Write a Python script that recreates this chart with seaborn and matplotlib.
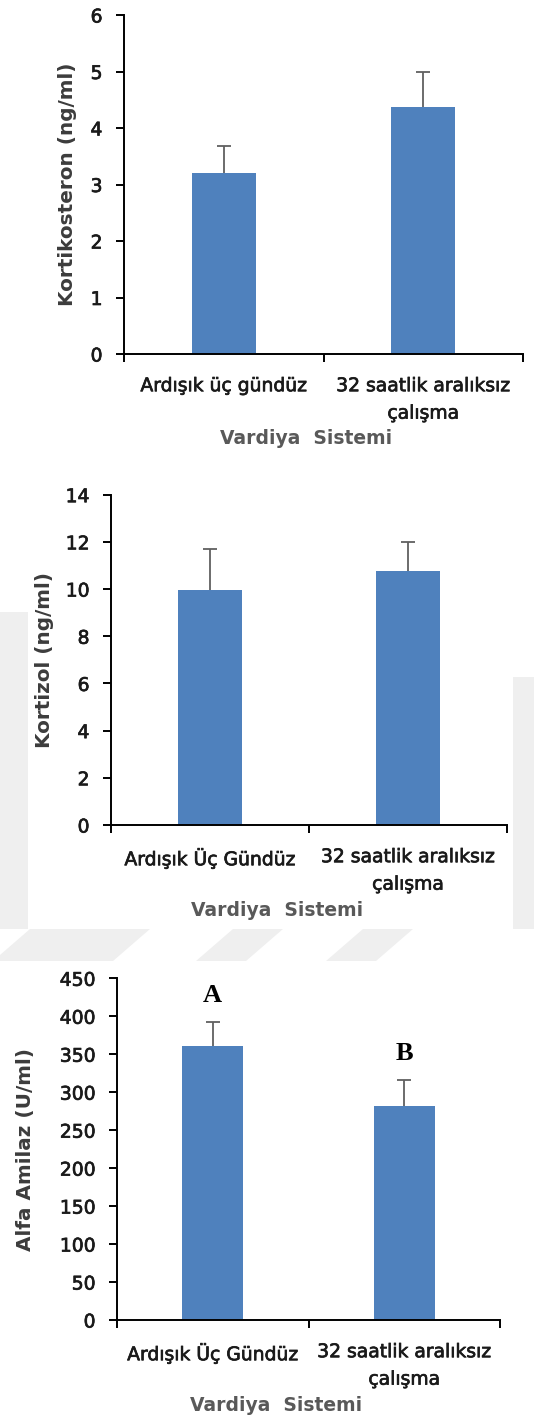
import matplotlib
matplotlib.use("Agg")
import matplotlib.pyplot as plt
import matplotlib.patheffects as pe
from matplotlib.patches import Polygon
import pandas as pd
import seaborn as sns

# ---- data -------------------------------------------------------------
groups_top = ["Ardışık üç gündüz", "32 saatlik aralıksız\nçalışma"]
groups = ["Ardışık Üç Gündüz", "32 saatlik aralıksız\nçalışma"]

kortikosteron_mean = [3.20, 4.37]
kortikosteron_se = [0.48, 0.63]

kortizol_mean = [9.95, 10.75]
kortizol_se = [1.75, 1.25]

amilaz_mean = [361, 282]
amilaz_se = [32, 34]
amilaz_letters = ["A", "B"]

ylabels = ["Kortikosteron (ng/ml)", "Kortizol (ng/ml)", "Alfa Amilaz (U/ml)"]
xlabel = "Vardiya  Sistemi"

# ---- style ------------------------------------------------------------
sns.set_theme(style="white")
plt.rcParams["font.family"] = ["DejaVu Sans"]

W, H, DPI = 534, 1422, 100
BAR = "#4F81BD"
ERR = "#606060"
TICK_TXT = "#1a1a1a"
YLAB = "#3c3c3c"
XLAB = "#595959"
FS = 13.5
FS_Y = 14.4
THICK = [pe.withStroke(linewidth=0.5, foreground=TICK_TXT)]

fig = plt.figure(figsize=(W / DPI, H / DPI), dpi=DPI)
fig.patch.set_facecolor("white")


def px_rect(l, t, r, b):
    return [l / W, 1 - b / H, (r - l) / W, (b - t) / H]


def px_poly(pts, color="#efefef"):
    xy = [(x / W, 1 - y / H) for x, y in pts]
    fig.add_artist(Polygon(xy, closed=True, transform=fig.transFigure,
                           facecolor=color, edgecolor="none", zorder=-5))


# faint background band pattern
px_poly([(0, 612), (28, 612), (28, 929), (0, 929)])
px_poly([(513, 677), (534, 677), (534, 929), (513, 929)])
px_poly([(30, 929), (150, 929), (113, 961), (0, 961), (0, 955)])
px_poly([(233, 929), (283, 929), (246, 961), (196, 961)])
px_poly([(363, 929), (413, 929), (376, 961), (326, 961)])


def panel(rect, cats, means, ses, ylim, yticks, ylabel, ylab_x, xlab_pos):
    ax = fig.add_axes(px_rect(*rect))
    df = pd.DataFrame({"grup": cats, "deger": means})
    sns.barplot(data=df, x="grup", y="deger", order=cats, color=BAR,
                saturation=1, width=0.32, errorbar=None, linewidth=0, ax=ax)
    eb = ax.errorbar(x=range(len(cats)), y=means, yerr=[[0] * len(ses), ses],
                     fmt="none", ecolor=ERR, elinewidth=1.3, capsize=5,
                     capthick=1.3, zorder=4)
    # only the upper cap is shown
    eb.lines[1][0].set_visible(False)

    ax.set_xlim(-0.5, len(cats) - 0.5)
    ax.set_ylim(*ylim)
    ax.set_yticks(yticks)
    ax.set_yticklabels([str(v) for v in yticks])
    ax.set_xticks(range(len(cats)))
    ax.set_xticklabels(cats, linespacing=1.56)
    ax.set_xticks([i - 0.5 for i in range(len(cats) + 1)], minor=True)

    sns.despine(ax=ax)
    for s in ("left", "bottom"):
        ax.spines[s].set_color("black")
        ax.spines[s].set_linewidth(1.4)

    ax.tick_params(axis="x", which="major", length=0, pad=16,
                   labelsize=FS, labelcolor=TICK_TXT)
    ax.tick_params(axis="x", which="minor", length=5.5, width=1.4,
                   color="black", direction="out", bottom=True)
    ax.tick_params(axis="y", length=5.5, width=1.4, color="black",
                   direction="out", pad=10, labelsize=FS,
                   labelcolor=TICK_TXT, left=True)
    for lab in ax.get_xticklabels() + ax.get_yticklabels():
        lab.set_path_effects(THICK)

    ax.set_ylabel(ylabel, fontsize=FS_Y, fontweight="bold", color=YLAB,
                  va="center")
    ax.yaxis.set_label_coords(ylab_x, 0.5)
    ax.set_xlabel(xlabel, fontsize=FS, fontweight="bold", color=XLAB,
                  va="center")
    ax.xaxis.set_label_coords(*xlab_pos)
    ax.set_facecolor("white")
    return ax


panel((124, 15, 523, 354), groups_top, kortikosteron_mean, kortikosteron_se,
      (0, 6), list(range(0, 7)), ylabels[0], -0.1404, (0.456, -0.248))

panel((111, 494.7, 507, 825), groups, kortizol_mean, kortizol_se,
      (0, 14), list(range(0, 15, 2)), ylabels[1], -0.1667, (0.419, -0.260))

ax3 = panel((117, 978.3, 500, 1320), groups, amilaz_mean, amilaz_se,
            (0, 450), list(range(0, 451, 50)), ylabels[2], -0.2402,
            (0.415, -0.249))

# significance letters above the amylase bars
for i, (m, s, letter) in enumerate(zip(amilaz_mean, amilaz_se, amilaz_letters)):
    ax3.text(i, m + s + 35, letter, ha="center", va="center",
             family="Liberation Serif", fontweight="bold", fontsize=19,
             color="black")

fig.savefig("out.png", dpi=DPI, facecolor="white")
